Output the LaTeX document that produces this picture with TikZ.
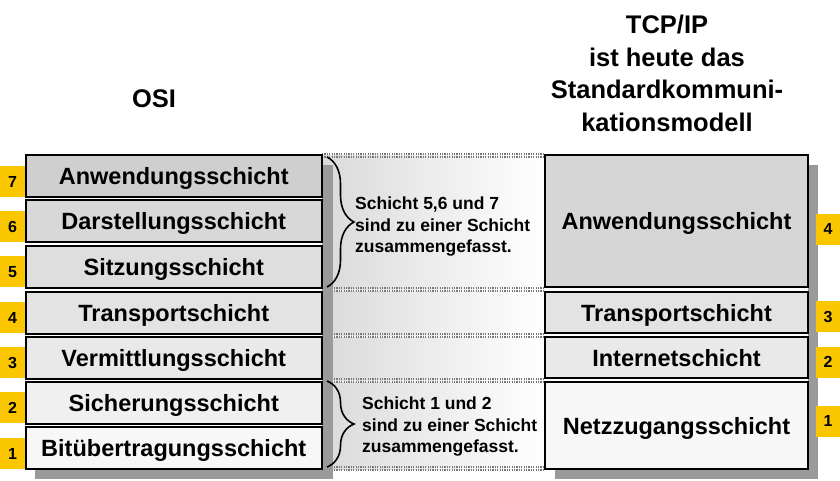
\documentclass[tikz,border=0pt]{standalone}
\usepackage{fontspec}
\setmainfont{Liberation Sans}
\usetikzlibrary{decorations.pathreplacing}
\definecolor{badgeY}{RGB}{250,198,0}
\definecolor{shadowG}{RGB}{154,154,154}
\definecolor{bandL}{RGB}{218,218,218}
\definecolor{dotG}{RGB}{120,120,120}
\tikzset{
  layer/.style={draw=black, line width=2pt, outer sep=0pt, inner sep=0pt,
    text height=17pt, text depth=0pt,
    font=\fontsize{23.5}{27}\selectfont\bfseries},
  lbox/.style={layer, minimum width=296.5pt, minimum height=42pt},
  rbox/.style={layer, minimum width=263pt},
  badge/.style={fill=badgeY, inner sep=0pt, outer sep=0pt, minimum width=25pt, minimum height=31pt,
    text height=11.5pt, text depth=0pt,
    font=\fontsize{16}{18}\selectfont\bfseries},
  note/.style={align=left, anchor=west, inner sep=0pt,
    font=\fontsize{17.5}{21.5}\selectfont\bfseries},
  title/.style={align=center, inner sep=0pt, font=\fontsize{25.5}{32.5}\selectfont\bfseries},
  sep/.style={dotG, line width=1.2pt, dash pattern=on 1.2pt off 1.2pt},
  bracestyle/.style={line width=1.6pt, decorate, decoration={brace, amplitude=27pt}},
}
\begin{document}
\begin{tikzpicture}[x=1pt, y=-1pt]
\useasboundingbox (0,0) rectangle (840,480);
% middle bands
\shade[left color=bandL, right color=white] (322,155) rectangle (545,289);
\shade[left color=bandL, right color=white] (322,291) rectangle (545,335);
\shade[left color=bandL, right color=white] (322,337) rectangle (545,380);
\shade[left color=bandL, right color=white] (322,382) rectangle (545,469);
% separators
\foreach \yy in {154,157,288,291,334,337,379,382,467,470}
  \draw[sep] (322,\yy) -- (545,\yy);
% shadows
\fill[shadowG] (322,165) rectangle (333,479);
\fill[shadowG] (35,469) rectangle (333,479);
\fill[shadowG] (808,165) rectangle (818,479);
\fill[shadowG] (555,469) rectangle (818,479);
% OSI boxes
\node[lbox, fill={rgb,255:red,207;green,207;blue,207}] (o7) at (173.75,176) {Anwendungsschicht};
\node[lbox, fill={rgb,255:red,216;green,216;blue,216}] (o6) at (173.75,221) {Darstellungsschicht};
\node[lbox, fill={rgb,255:red,222;green,222;blue,222}] (o5) at (173.75,266.5) {Sitzungsschicht};
\node[lbox, fill={rgb,255:red,227;green,227;blue,227}] (o4) at (173.75,312.5) {Transportschicht};
\node[lbox, fill={rgb,255:red,233;green,233;blue,233}] (o3) at (173.75,357.5) {Vermittlungsschicht};
\node[lbox, fill={rgb,255:red,240;green,240;blue,240}] (o2) at (173.75,402.5) {Sicherungsschicht};
\node[lbox, fill={rgb,255:red,247;green,247;blue,247}] (o1) at (173.75,448) {Bitübertragungsschicht};
% TCP/IP boxes
\node[rbox, minimum height=132pt, fill={rgb,255:red,214;green,214;blue,214}] (t4) at (676.5,221) {Anwendungsschicht};
\node[rbox, minimum height=41pt, fill={rgb,255:red,227;green,227;blue,227}] (t3) at (676.5,312.5) {Transportschicht};
\node[rbox, minimum height=41pt, fill={rgb,255:red,233;green,233;blue,233}] (t2) at (676.5,357.5) {Internetschicht};
\node[rbox, minimum height=87pt, fill={rgb,255:red,247;green,247;blue,247}] (t1) at (676.5,425.5) {Netzzugangsschicht};
% badges left
\node[badge] (b7) at (12.5,181.5) {7};
\node[badge] (b6) at (12.5,226.5) {6};
\node[badge] (b5) at (12.5,271.5) {5};
\node[badge] (b4) at (12.5,317.5) {4};
\node[badge] (b3) at (12.5,362.5) {3};
\node[badge] (b2) at (12.5,407.5) {2};
\node[badge] (b1) at (12.5,453.5) {1};
% badges right
\node[badge, minimum width=24pt] (c4) at (828,229) {4};
\node[badge, minimum width=24pt] (c3) at (828,316.5) {3};
\node[badge, minimum width=24pt] (c2) at (828,362) {2};
\node[badge, minimum width=24pt] (c1) at (828,421) {1};
% braces
\coordinate (br1a) at (327,157);
\coordinate (br1b) at (327,287);
\coordinate (br2a) at (327,381);
\coordinate (br2b) at (327,467);
\draw[bracestyle] (br1a) -- (br1b);
\draw[bracestyle] (br2a) -- (br2b);
\node[note] (n1) at (355,227) {Schicht 5,6 und 7\\sind zu einer Schicht\\zusammengefasst.};
\node[note] (n2) at (362,427) {Schicht 1 und 2\\sind zu einer Schicht\\zusammengefasst.};
% titles
\node[title] (osi) at (154,99) {OSI};
\node[title] (tcp) at (667,73.5) {TCP/IP\\ist heute das\\Standardkommuni-\\kationsmodell};
\end{tikzpicture}
\end{document}
